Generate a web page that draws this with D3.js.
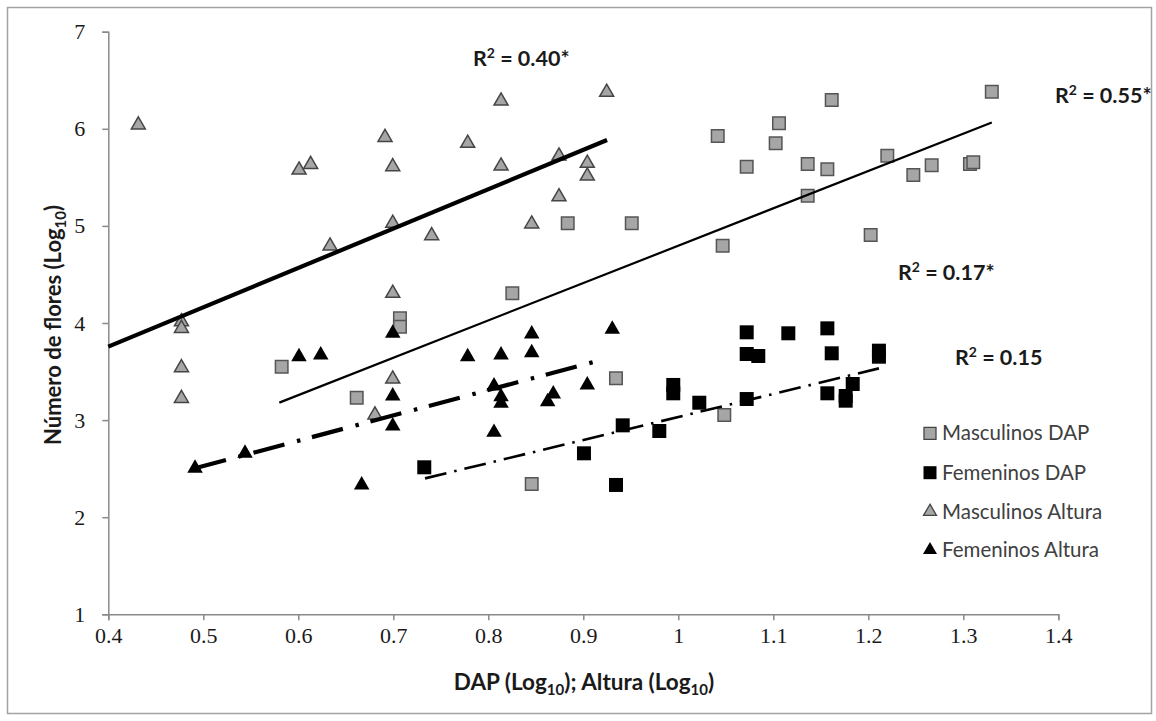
<!DOCTYPE html>
<html>
<head>
<meta charset="utf-8">
<script src="https://cdn.jsdelivr.net/npm/d3@7"></script>
<style>
  html, body { margin: 0; padding: 0; background: #fff; }
  svg { display: block; }
</style>
</head>
<body>
<svg id="chart" width="1156" height="721"></svg>
<script>
// Scatter of flower counts vs. trunk diameter (DAP) and height, log10 scales.

const xTicks = [0.4, 0.5, 0.6, 0.7, 0.8, 0.9, 1, 1.1, 1.2, 1.3, 1.4];
const yTicks = [1, 2, 3, 4, 5, 6, 7];

const seriesNames = ["Masculinos DAP", "Femeninos DAP", "Masculinos Altura", "Femeninos Altura"];

const mascDAP = [
  [0.5825, 3.55], [0.6615, 3.23], [0.707, 4.048], [0.707, 3.962], [0.8253, 4.306],
  [0.8836, 5.027], [0.951, 5.027], [0.9344, 3.43], [0.8457, 2.342], [1.0484, 3.053],
  [1.0415, 5.926], [1.0467, 4.796], [1.072, 5.61], [1.1025, 5.851], [1.106, 6.056],
  [1.1362, 5.638], [1.1362, 5.311], [1.1569, 5.583], [1.1615, 6.297], [1.2025, 4.906],
  [1.22, 5.723], [1.2474, 5.524], [1.2667, 5.624], [1.307, 5.638], [1.3105, 5.655],
  [1.33, 6.382]
];

const femDAP = [
  [0.7326, 2.514], [0.9007, 2.658], [0.9344, 2.332], [0.9415, 2.946], [0.98, 2.888],
  [0.9947, 3.362], [0.9947, 3.276], [1.0221, 3.179], [1.072, 3.904], [1.072, 3.681],
  [1.0842, 3.66], [1.072, 3.217], [1.1158, 3.894], [1.1569, 3.945], [1.1569, 3.276],
  [1.1615, 3.688], [1.1762, 3.248], [1.1762, 3.2], [1.1836, 3.372], [1.2112, 3.715],
  [1.2112, 3.653]
];

const mascAltura = [
  [0.4316, 6.04], [0.477, 4.013], [0.477, 3.945], [0.477, 3.54], [0.477, 3.224],
  [0.6008, 5.576], [0.613, 5.634], [0.6334, 4.793], [0.6807, 3.053], [0.6913, 5.912],
  [0.6994, 5.61], [0.6994, 5.027], [0.6994, 4.306], [0.6994, 3.423], [0.7404, 4.899],
  [0.7783, 5.851], [0.8134, 6.286], [0.8134, 5.617], [0.8457, 5.02], [0.8744, 5.72],
  [0.8744, 5.30], [0.9042, 5.645], [0.9042, 5.514], [0.9246, 6.376]
];

const femAltura = [
  [0.4913, 2.504], [0.5439, 2.658], [0.6007, 3.653], [0.6236, 3.67], [0.6667, 2.332],
  [0.6994, 3.894], [0.6994, 3.248], [0.6994, 2.939], [0.7783, 3.653], [0.806, 3.351],
  [0.806, 2.874], [0.8134, 3.67], [0.8134, 3.241], [0.8134, 3.173], [0.8457, 3.887],
  [0.8457, 3.694], [0.8625, 3.19], [0.8684, 3.269], [0.9042, 3.362], [0.9305, 3.935]
];

// Linear trend lines (y = slope * x + intercept) over [from, to], one per series
const trendSlope     = [3.848, 2.371, 4.053, 2.609];
const trendIntercept = [0.948, 0.661, 2.135, 1.222];
const trendFrom      = [0.58, 0.7334, 0.4, 0.4913];
const trendTo        = [1.33, 1.2112, 0.925, 0.9186];

const r2Labels = ["0.55*", "0.15", "0.40*", "0.17*"];

// ---------------------------------------------------------------------
const svg = d3.select("#chart");
const W = 1156, H = 721;
const plot = { left: 108.3, right: 1058.3, top: 31.7, bottom: 614.3 };

const x = d3.scaleLinear().domain([0.4, 1.4]).range([plot.left, plot.right]);
const y = d3.scaleLinear().domain([1, 7]).range([plot.bottom, plot.top]);

svg.append("rect").attr("width", W).attr("height", H).attr("fill", "#fff");
// chart-area frame
svg.append("rect")
  .attr("x", 7.5).attr("y", 7.5).attr("width", 1144).attr("height", 706)
  .attr("fill", "none").attr("stroke", "#a3a3a3").attr("stroke-width", 1.5);

const axisColor = "#8a8a8a";
const tickFont = "'Liberation Serif', 'DejaVu Serif', serif";
const sansFont = "Lato, 'Open Sans', 'Liberation Sans', sans-serif";

// axes
const gx = svg.append("g")
  .attr("transform", `translate(0,${plot.bottom})`)
  .call(d3.axisBottom(x).tickValues(xTicks).tickSize(6).tickPadding(7)
    .tickFormat(d3.format("")));
const gy = svg.append("g")
  .attr("transform", `translate(${plot.left},0)`)
  .call(d3.axisLeft(y).tickValues(yTicks).tickSize(6).tickPadding(17)
    .tickFormat(d3.format("d")));

[gx, gy].forEach(g => {
  g.attr("font-family", null).attr("font-size", null);
  g.select(".domain").attr("stroke", axisColor).attr("stroke-width", 1.5);
  g.selectAll(".tick line").attr("stroke", axisColor).attr("stroke-width", 1.5);
  g.selectAll(".tick text")
    .style("font-family", tickFont).style("font-size", "22px").attr("fill", "#1a1a1a");
});

// markers
const sqGray = d3.symbol().type(d3.symbolSquare).size(12.5 * 12.5);
const sqBlack = d3.symbol().type(d3.symbolSquare).size(14 * 14);
const triGray = d3.symbol().type(d3.symbolTriangle).size(Math.sqrt(3) / 4 * 14 * 14);
const triBlack = d3.symbol().type(d3.symbolTriangle).size(Math.sqrt(3) / 4 * 15.5 * 15.5);

const styles = [
  { data: mascDAP,    path: sqGray,   fill: "#a6a6a6", stroke: "#555", sw: 1.5 },
  { data: femDAP,     path: sqBlack,  fill: "#000",    stroke: "none", sw: 0 },
  { data: mascAltura, path: triGray,  fill: "#a6a6a6", stroke: "#454545", sw: 1.5 },
  { data: femAltura,  path: triBlack, fill: "#000",    stroke: "none", sw: 0 }
];

styles.forEach(s => {
  svg.append("g").selectAll("path").data(s.data).join("path")
    .attr("d", s.path())
    .attr("transform", d => `translate(${x(d[0])},${y(d[1])})`)
    .attr("fill", s.fill).attr("stroke", s.stroke).attr("stroke-width", s.sw);
});

// trend lines
const lineStyles = [
  { width: 2.2, dash: null },
  { width: 2.6, dash: "22,8,2.5,8" },
  { width: 4.2, dash: null },
  { width: 4.2, dash: "32,13,3.5,12" }
];
const line = d3.line().x(d => x(d[0])).y(d => y(d[1]));
lineStyles.forEach((ls, i) => {
  const pts = [trendFrom[i], trendTo[i]].map(v => [v, trendSlope[i] * v + trendIntercept[i]]);
  svg.append("path").datum(pts).attr("d", line)
    .attr("fill", "none").attr("stroke", "#000").attr("stroke-width", ls.width)
    .attr("stroke-dasharray", ls.dash);
});

// R² annotations
const r2Pos = [[1055, 103], [955, 365], [473, 66], [898, 280]];
r2Labels.forEach((lab, i) => {
  const t = svg.append("text")
    .attr("x", r2Pos[i][0]).attr("y", r2Pos[i][1])
    .style("font-family", sansFont).attr("font-weight", 700)
    .style("font-size", "21.5px").attr("fill", "#1a1a1a");
  t.append("tspan").text("R");
  t.append("tspan").style("font-size", "14px").attr("dy", -8).text("2");
  t.append("tspan").attr("dy", 8).text(" = " + lab);
});

// axis titles
const xt = svg.append("text")
  .attr("x", 584).attr("y", 690).attr("text-anchor", "middle")
  .style("font-family", sansFont).attr("font-weight", 700).style("font-size", "22.5px")
  .attr("fill", "#1a1a1a");
xt.append("tspan").text("DAP (Log");
xt.append("tspan").style("font-size", "15px").attr("dy", 5).text("10");
xt.append("tspan").attr("dy", -5).text("); Altura (Log");
xt.append("tspan").style("font-size", "15px").attr("dy", 5).text("10");
xt.append("tspan").attr("dy", -5).text(")");

const yt = svg.append("text")
  .attr("transform", "translate(61,325) rotate(-90)").attr("text-anchor", "middle")
  .style("font-family", sansFont).attr("font-weight", 700).style("font-size", "22px")
  .attr("fill", "#1a1a1a");
yt.append("tspan").text("Número de flores (Log");
yt.append("tspan").style("font-size", "15px").attr("dy", 5).text("10");
yt.append("tspan").attr("dy", -5).text(")");

// legend
const legendY = [433.3, 472.7, 511.7, 550];
const legendMarks = [
  { path: d3.symbol().type(d3.symbolSquare).size(12 * 12), fill: "#a6a6a6", stroke: "#444", sw: 1.3 },
  { path: d3.symbol().type(d3.symbolSquare).size(13 * 13), fill: "#000", stroke: "none", sw: 0 },
  { path: d3.symbol().type(d3.symbolTriangle).size(Math.sqrt(3) / 4 * 13 * 13), fill: "#a6a6a6", stroke: "#444", sw: 1.3 },
  { path: d3.symbol().type(d3.symbolTriangle).size(Math.sqrt(3) / 4 * 14 * 14), fill: "#000", stroke: "none", sw: 0 }
];
const lg = svg.append("g").selectAll("g").data(seriesNames).join("g")
  .attr("transform", (d, i) => `translate(0,${legendY[i]})`);
lg.append("path")
  .attr("d", (d, i) => legendMarks[i].path())
  .attr("transform", "translate(930,0)")
  .attr("fill", (d, i) => legendMarks[i].fill)
  .attr("stroke", (d, i) => legendMarks[i].stroke)
  .attr("stroke-width", (d, i) => legendMarks[i].sw);
lg.append("text")
  .attr("x", 942).attr("y", 7)
  .style("font-family", sansFont).style("font-size", "20.5px").attr("fill", "#404040")
  .text(d => d);
</script>
</body>
</html>
